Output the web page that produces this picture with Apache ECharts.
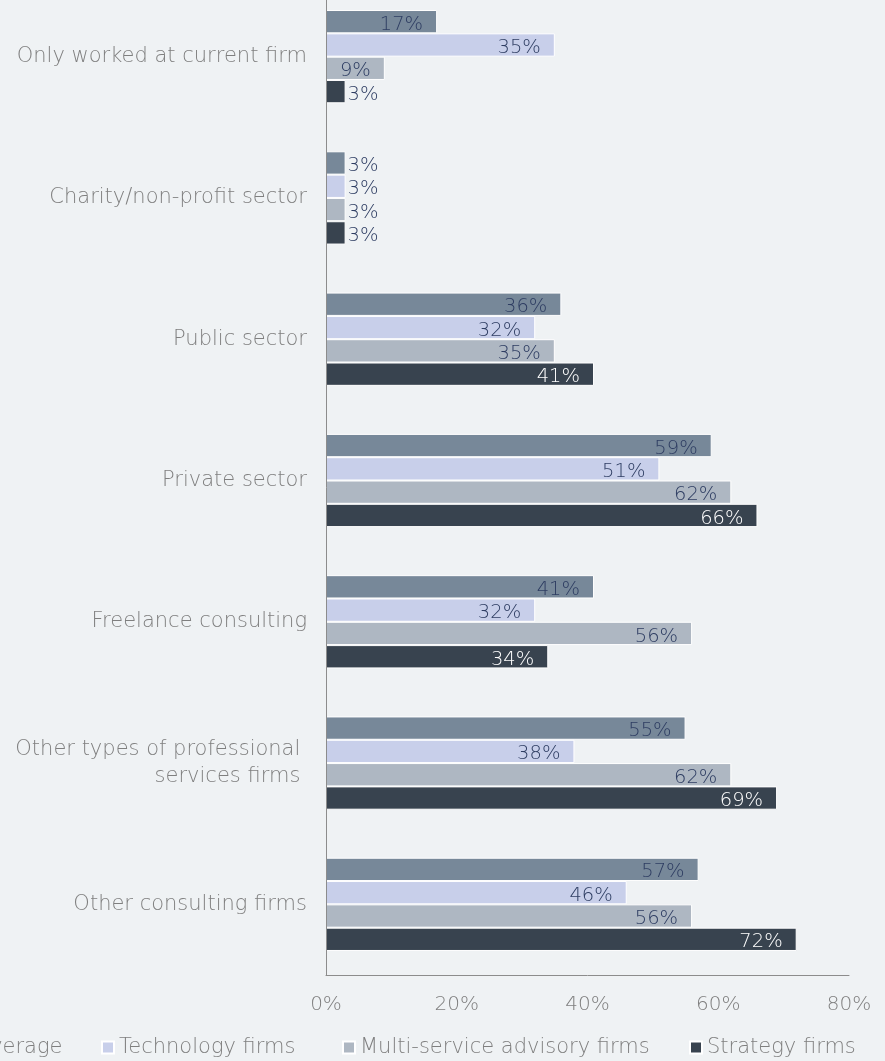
<!DOCTYPE html>
<html>
<head>
<meta charset="utf-8">
<script src="https://cdn.jsdelivr.net/npm/echarts@6/dist/echarts.min.js"></script>
<style>
  html, body { margin: 0; padding: 0; background: #eff2f4; }
  #chart { width: 885px; height: 1061px; }
</style>
</head>
<body>
<div id="chart"></div>
<script>
// Prior work experience by firm type (% of respondents)
const categories = [
  'Only worked at current firm',
  'Charity/non-profit sector',
  'Public sector',
  'Private sector',
  'Freelance consulting',
  'Other types of professional \nservices firms ',
  'Other consulting firms'
];
const seriesNames = ['Average', 'Technology firms', 'Multi-service advisory firms', 'Strategy firms'];
const average      = [17, 3, 36, 59, 41, 55, 57];
const technology   = [35, 3, 32, 51, 32, 38, 46];
const multiService = [9, 3, 35, 62, 56, 62, 56];
const strategy     = [3, 3, 41, 66, 34, 69, 72];
const xTicks = [0, 20, 40, 60, 80];

const colors = ['#778899', '#c8cfea', '#aeb7c2', '#38434f'];
const insideLabelColors = ['#2e3d62', '#2e3d62', '#2e3d62', '#ffffff'];
const FONT = 'DejaVu Sans';
const TEXT_GREY = '#7f7f7f';

// small values get their label just past the bar end, the rest sit inside
function buildData(values, idx) {
  return values.map(v => ({
    value: v,
    label: v < 5
      ? { position: 'right', distance: 2, color: '#2e3d62' }
      : { position: 'insideRight', distance: 14, color: insideLabelColors[idx] }
  }));
}

const allValues = [average, technology, multiService, strategy];
const legendLeft = [-46, 96, 337, 684];

const chart = echarts.init(document.getElementById('chart'));
chart.setOption({
  backgroundColor: '#eff2f4',
  animation: false,
  grid: {
    left: 326, right: 36, top: -14, bottom: 86,
    containLabel: false,
    outerBoundsMode: 'none'
  },
  xAxis: {
    type: 'value',
    min: xTicks[0],
    max: xTicks[xTicks.length - 1],
    interval: 20,
    axisLine: { show: true, lineStyle: { color: '#8c8c8c', width: 1 } },
    axisTick: { show: false },
    splitLine: { show: false },
    axisLabel: {
      formatter: '{value}%',
      color: TEXT_GREY,
      fontFamily: FONT,
      fontSize: 20,
      fontWeight: 300,
      margin: 10,
      padding: [10, 0, 0, 0]
    }
  },
  yAxis: {
    type: 'category',
    inverse: true,
    data: categories,
    z: 5,
    axisLine: { show: true, lineStyle: { color: '#8c8c8c', width: 1 } },
    axisTick: { show: false },
    axisLabel: {
      color: TEXT_GREY,
      fontFamily: FONT,
      fontSize: 21,
      fontWeight: 300,
      margin: 19,
      align: 'right',
      lineHeight: 27
    }
  },
  legend: seriesNames.map((name, i) => ({
    data: [name],
    left: legendLeft[i],
    top: 1032,
    itemWidth: 12,
    itemHeight: 12,
    icon: 'rect',
    itemGap: 0,
    textStyle: { color: TEXT_GREY, fontFamily: FONT, fontSize: 21, fontWeight: 300 }
  })),
  series: allValues.map((vals, i) => ({
    name: seriesNames[i],
    type: 'bar',
    data: buildData(vals, i),
    barGap: '0%',
    barCategoryGap: '34%',
    itemStyle: { color: colors[i], borderColor: '#ffffff', borderWidth: 1 },
    label: {
      show: true,
      formatter: '{c}%',
      fontFamily: FONT,
      fontSize: 19.5,
      fontWeight: 300,
      offset: [0, 3]
    }
  }))
});
</script>
</body>
</html>
